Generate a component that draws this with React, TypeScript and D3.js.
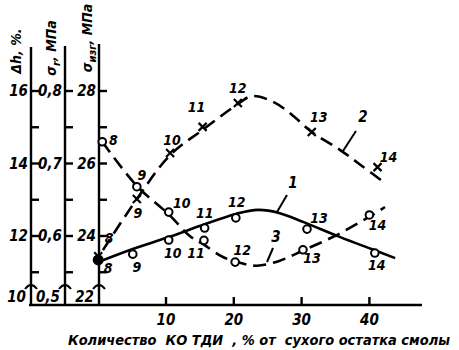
import React from "react";
import * as d3 from "d3";

const width = 459;
const height = 350;

// specimen numbers marked at the points
const pointNums = [8, 9, 10, 11, 12, 13, 14];

// curve 1, Δh (%), solid line, open circles
const c1X = [0, 5.1, 10.4, 15.7, 20.3, 30.8, 40.8];
const c1Y = [11.34, 11.5, 11.89, 12.22, 12.5, 12.19, 11.53];
const c1LineX = [0, 5.1, 10.4, 15.8, 20.3, 23.6, 26.8, 30.2, 35.7, 40.3, 43.8];
const c1LineY = [11.28, 11.64, 11.97, 12.33, 12.61, 12.72, 12.63, 12.39, 11.97, 11.64, 11.39];

// curve 2, σизг (MPa), dashed, crosses
const c2X = [0, 5.7, 10.6, 15.4, 20.6, 31.5, 41.2];
const c2Y = [23.44, 25.02, 26.29, 27.01, 27.67, 26.87, 25.9];
const c2LineX = [0.7, 5.7, 10.6, 15.5, 20.6, 22.7, 25.8, 28.6, 31.5, 35.7, 38.7, 42.3];
const c2LineY = [23.61, 25.02, 26.23, 26.94, 27.64, 27.86, 27.7, 27.34, 26.87, 26.37, 25.96, 25.46];

// curve 3, σr (MPa), dashed, open circles
const c3X = [0.6, 5.7, 10.4, 15.6, 20.2, 30.2, 40.0];
const c3Y = [0.73, 0.668, 0.633, 0.594, 0.564, 0.581, 0.629];
const c3LineX = [0.6, 5.7, 10.4, 13.5, 15.6, 18.4, 20.9, 23.4, 26.8, 30.2, 34.9, 39.9, 42.3];
const c3LineY = [0.73, 0.669, 0.63, 0.6, 0.588, 0.571, 0.563, 0.559, 0.566, 0.58, 0.6, 0.626, 0.64];

// axis ticks
const xTicks = [10, 20, 30, 40];
const dhTicks = [16, 14, 12];
const dhLabels = ["16", "14", "12"];
const srTicks = [0.8, 0.7, 0.6];
const srLabels = ["0,8", "0,7", "0,6"];
const sbTicks = [28, 26, 24];
const sbLabels = ["28", "26", "24"];
const minorDh = [15, 13, 11];
const bottomLabels = ["10", "0,5", "22"];

// label offsets next to each marker [dx, dy]
const c1Off = [[10, 8], [4, 13], [4, 13], [0, -15], [1, -16], [12, -11], [2, 12]];
const c2Off = [[11, -18], [1, 14], [2, -13], [-6, -20], [0, -15], [7, -15], [11, -10]];
const c3Off = [[11, -2], [5, -12], [13, -9], [-8, 13], [7, -12], [9, 8], [8, 10]];

const font = "'Liberation Sans Narrow', 'DejaVu Sans Condensed', 'Liberation Sans', sans-serif";

const x = d3.scaleLinear().domain([0, 40]).range([98.2, 369.4]);
const yDh = d3.scaleLinear().domain([12, 16]).range([236, 91]);
const ySr = d3.scaleLinear().domain([0.6, 0.8]).range([236, 91]);
const ySb = d3.scaleLinear().domain([24, 28]).range([236, 91]);

const baseY = 305;
const axes = [
  { ax: 31, scale: yDh, ticks: dhTicks, labels: dhLabels, top: 47 },
  { ax: 65, scale: ySr, ticks: srTicks, labels: srLabels, top: 46 },
  { ax: 99, scale: ySb, ticks: sbTicks, labels: sbLabels, top: 44 },
];

const line = d3.line<[number, number]>().curve(d3.curveCatmullRom.alpha(0.5));

function zip(xs: number[], ys: number[], s: d3.ScaleLinear<number, number>): [number, number][] {
  return xs.map((v, i) => [x(v), s(ys[i])]);
}

function Labels({ xs, ys, s, off }: any) {
  return (
    <g>
      {xs.map((v: number, i: number) => (
        <text
          key={i}
          x={x(v) + off[i][0]}
          y={s(ys[i]) + off[i][1]}
          textAnchor="middle"
          dominantBaseline="central"
          fontSize={14}
          fontStyle="italic"
          fontWeight={700}
          fontFamily={font}
        >
          {pointNums[i]}
        </text>
      ))}
    </g>
  );
}

export default function App() {
  const stroke = "#000";
  return (
    <svg
      width={width}
      height={height}
      style={{ position: "absolute", left: 0, top: 0, background: "#fff" }}
    >
      {/* y axes */}
      {axes.map((a, k) => (
        <g key={k} stroke={stroke} strokeWidth={2.4}>
          <line x1={a.ax} x2={a.ax} y1={a.top} y2={baseY} />
          {a.ticks.map((t) => (
            <line key={t} x1={a.ax} x2={a.ax + 8} y1={a.scale(t)} y2={a.scale(t)} />
          ))}
          {minorDh.map((m, i) => (
            <line key={"m" + i} x1={a.ax} x2={a.ax + 8} y1={yDh(m)} y2={yDh(m)} />
          ))}
          <path
            d={`M${a.ax - 6},${289} Q${a.ax},${281} ${a.ax + 6},${289}`}
            fill="none"
            strokeWidth={2}
          />
          {a.ticks.map((t, i) => (
            <text
              key={"l" + t}
              x={a.ax - 3}
              y={a.scale(t)}
              textAnchor="end"
              dominantBaseline="central"
              stroke="none"
              fontSize={15}
              fontStyle="italic"
              fontWeight={700}
              fontFamily={font}
            >
              {a.labels[i]}
            </text>
          ))}
          <text
            x={a.ax - 5}
            y={297}
            textAnchor="end"
            dominantBaseline="central"
            stroke="none"
            fontSize={15}
            fontStyle="italic"
            fontWeight={700}
            fontFamily={font}
          >
            {bottomLabels[k]}
          </text>
        </g>
      ))}

      {/* axis titles */}
      <g fontStyle="italic" fontWeight={700} fontFamily={font} fontSize={14}>
        <text transform="translate(21,51) rotate(-90)" textAnchor="middle">
          Δh, %.
        </text>
        <text transform="translate(56,48) rotate(-90)" textAnchor="middle">
          σ<tspan dy={4} fontSize={11}>r</tspan>
          <tspan dy={-4}>, МПа</tspan>
        </text>
        <text transform="translate(92,38) rotate(-90)" textAnchor="middle">
          σ<tspan dy={4} fontSize={11}>изг</tspan>
          <tspan dy={-4}>, МПа</tspan>
        </text>
      </g>

      {/* x axis */}
      <g stroke={stroke} strokeWidth={2.4}>
        <line x1={29} x2={422} y1={baseY} y2={baseY} />
        {xTicks.map((t) => (
          <line key={t} x1={x(t)} x2={x(t)} y1={baseY} y2={baseY - 8} />
        ))}
      </g>
      {xTicks.map((t) => (
        <text
          key={t}
          x={x(t)}
          y={320}
          textAnchor="middle"
          dominantBaseline="central"
          fontSize={15}
          fontStyle="italic"
          fontWeight={700}
          fontFamily={font}
        >
          {t}
        </text>
      ))}
      <text
        x={68}
        y={340}
        dominantBaseline="central"
        fontSize={14}
        fontStyle="italic"
        fontWeight={700}
        fontFamily={font}
        textLength={382}
        lengthAdjust="spacingAndGlyphs"
        xmlSpace="preserve"
      >
        Количество  КО ТДИ  , % от  сухого остатка смолы
      </text>

      {/* curves */}
      <path d={line(zip(c1LineX, c1LineY, yDh)) || ""} fill="none" stroke={stroke} strokeWidth={2.6} />
      <path
        d={line(zip(c2LineX, c2LineY, ySb)) || ""}
        fill="none"
        stroke={stroke}
        strokeWidth={2.6}
        strokeDasharray="13 7"
      />
      <path
        d={line(zip(c3LineX, c3LineY, ySr)) || ""}
        fill="none"
        stroke={stroke}
        strokeWidth={2.6}
        strokeDasharray="13 7"
      />

      {/* markers */}
      {c1X.map((v, i) => (
        <circle key={"a" + i} cx={x(v)} cy={yDh(c1Y[i])} r={i === 0 ? 4.5 : 3.8} fill={i === 0 ? "#000" : "#fff"} stroke={stroke} strokeWidth={2} />
      ))}
      {c3X.map((v, i) => (
        <circle key={"c" + i} cx={x(v)} cy={ySr(c3Y[i])} r={3.8} fill="#fff" stroke={stroke} strokeWidth={2} />
      ))}
      {c2X.map((v, i) => {
        const cx = x(v);
        const cy = ySb(c2Y[i]);
        return (
          <path
            key={"b" + i}
            d={`M${cx - 4},${cy - 4}L${cx + 4},${cy + 4}M${cx + 4},${cy - 4}L${cx - 4},${cy + 4}`}
            stroke={stroke}
            strokeWidth={2.2}
          />
        );
      })}

      <Labels xs={c1X} ys={c1Y} s={yDh} off={c1Off} />
      <Labels xs={c2X} ys={c2Y} s={ySb} off={c2Off} />
      <Labels xs={c3X} ys={c3Y} s={ySr} off={c3Off} />

      {/* curve numbers with leaders */}
      <g stroke={stroke} strokeWidth={2}>
        <line x1={277} y1={212} x2={287} y2={195} />
        <line x1={356} y1={131} x2={343} y2={151} />
        <line x1={273} y1={248} x2={267} y2={262} />
      </g>
      <g fontSize={15} fontStyle="italic" fontWeight={700} fontFamily={font} textAnchor="middle" dominantBaseline="central">
        <text x={293} y={183}>1</text>
        <text x={363} y={117}>2</text>
        <text x={276} y={237}>3</text>
      </g>
    </svg>
  );
}
